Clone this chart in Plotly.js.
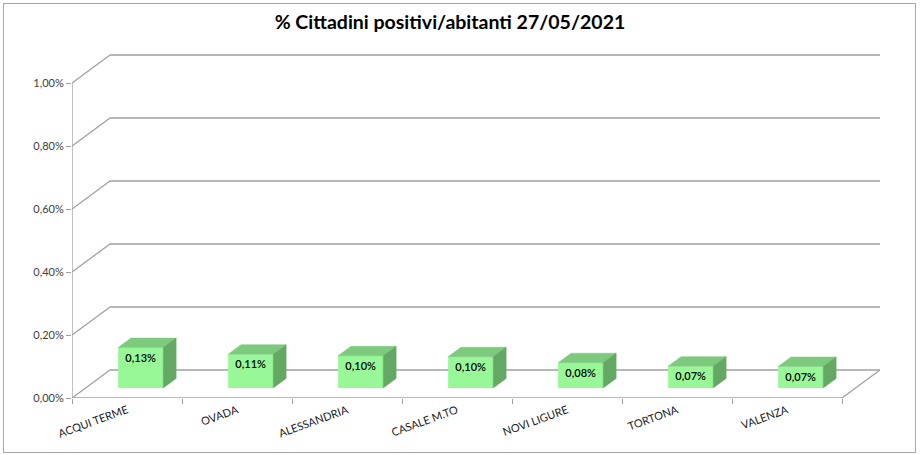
<!DOCTYPE html>
<html><head><meta charset="utf-8">
<script src="https://cdn.plot.ly/plotly-3.0.1.min.js"></script>
<style>
body{margin:0;background:#fff}
#chart{width:923px;height:455px}
#frame{position:absolute;left:3px;top:3px;width:911px;height:448px;border:1px solid #A6A6A6;pointer-events:none}
</style>
</head><body><div id="chart"></div><div id="frame"></div>
<script>
// ---- data (values in percent) ----
const categories = ['ACQUI TERME','OVADA','ALESSANDRIA','CASALE M.TO','NOVI LIGURE','TORTONA','VALENZA'];
const values = [0.128, 0.107, 0.102, 0.099, 0.080, 0.069, 0.068];
const yTicks = [0, 0.2, 0.4, 0.6, 0.8, 1.0];

const fmt = v => v.toFixed(2).replace('.', ',') + '%';
const yTickText = yTicks.map(fmt);
const labels = values.map(fmt);

// ---- pseudo-3D geometry (axis units) ----
const PX_X = 110, PX_Y = 315;          // pixels per category / per 1%
const DX = 38 / PX_X, DY = 28 / PX_Y;  // floor depth offset
const F1 = 0.36, F2 = 0.70;            // bar front / back depth fraction
const BW = 0.41;                       // bar width in categories
const N = categories.length;
const GRID = '#A0A0A0';

const shapes = [];
const ln = (x0, y0, x1, y1) => shapes.push({type:'line', xref:'x', yref:'y', x0, y0, x1, y1, layer:'below', line:{color:GRID, width:1.3}});
yTicks.forEach(t => { ln(0, t, DX, t + DY); ln(DX, t + DY, N + DX, t + DY); });
ln(0, 0, N, 0); ln(N, 0, N + DX, DY); ln(0, 0, 0, yTicks[yTicks.length - 1]);

const cx = categories.map((c, i) => i + 0.5 + F1 * DX);
const base = F1 * DY;
const d = F2 - F1;
const topX = [], topY = [], sideX = [], sideY = [];
values.forEach((v, i) => {
  const xl = cx[i] - BW / 2, xr = cx[i] + BW / 2, yt = base + v;
  topX.push(xl, xr, xr + d * DX, xl + d * DX, xl, null);
  topY.push(yt, yt, yt + d * DY, yt + d * DY, yt, null);
  sideX.push(xr, xr, xr + d * DX, xr + d * DX, xr, null);
  sideY.push(base, yt, yt + d * DY, base + d * DY, base, null);
});

const traces = [
  {type:'bar', x: cx, y: values, base: base, width: BW,
   marker:{color:'#98F898', line:{width:0}},
   text: labels, textposition:'inside', insidetextanchor:'end', textangle:0, constraintext:'none',
   textfont:{family:'Lato, sans-serif', size:11, color:'#000', weight:600}, hoverinfo:'skip'},
  {type:'scatter', mode:'lines', x: topX, y: topY, fill:'toself', fillcolor:'#7DC97D',
   line:{width:0.5, color:'#7DC97D'}, hoverinfo:'skip'},
  {type:'scatter', mode:'lines', x: sideX, y: sideY, fill:'toself', fillcolor:'#63A863',
   line:{width:0.5, color:'#63A863'}, hoverinfo:'skip'}
];

const L = 72, R = 43, T = 45, B = 57;
const plotW = 923 - L - R, plotH = 455 - T - B;

const layout = {
  width: 923, height: 455,
  margin:{l:L, r:R, t:T, b:B},
  paper_bgcolor:'#fff', plot_bgcolor:'#fff',
  showlegend:false,
  title:{text:'% Cittadini positivi/abitanti 27/05/2021', xref:'container', yref:'container',
         x:0.4875, y:0.952, xanchor:'center', yanchor:'middle',
         font:{family:'Lato, sans-serif', size:19.5, color:'#000', weight:700}},
  xaxis:{range:[0, plotW / PX_X], showgrid:false, zeroline:false, showline:false, fixedrange:true,
         tickmode:'array', tickvals: categories.map((c, i) => i + 0.5), ticktext: categories,
         ticks:'', tickangle:-20, ticklabelstandoff:3,
         tickfont:{family:'Lato, sans-serif', size:11, color:'#1a1a1a'},
         minor:{tickmode:'array', tickvals: categories.map((c, i) => i).concat([N]), ticks:'outside',
                ticklen:5, tickcolor:GRID, tickwidth:1, showgrid:false}},
  yaxis:{range:[0, plotH / PX_Y], showgrid:false, zeroline:false, showline:false, fixedrange:true,
         tickmode:'array', tickvals: yTicks, ticktext: yTickText,
         ticks:'outside', ticklen:5, tickcolor:GRID, tickwidth:1,
         tickfont:{family:'Lato, sans-serif', size:11, color:'#404040'}},
  shapes: shapes
};

Plotly.newPlot('chart', traces, layout, {displayModeBar:false, staticPlot:true});
</script>
</body></html>
